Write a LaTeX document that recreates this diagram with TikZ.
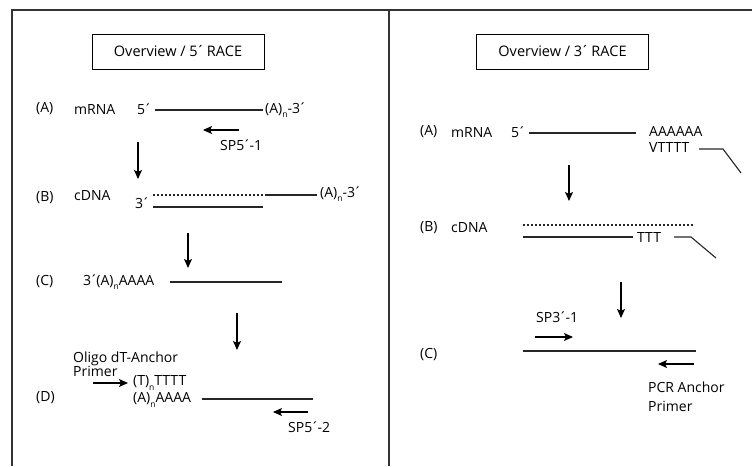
\documentclass[tikz,border=0pt]{standalone}
\usepackage{fontspec}
\setmainfont{Open Sans}
\usetikzlibrary{arrows.meta}
\newcommand\nsub{\raisebox{-0.55ex}{\fontsize{8.5}{9}\selectfont n}}
\newcommand\ac{\kern-0.1em´\kern-0.1em}
\begin{document}
\begin{tikzpicture}[x=1pt,y=-1pt,
  font=\fontsize{14}{15}\selectfont,
  lbl/.style={anchor=west, inner sep=0pt},
  strand/.style={line width=1.1pt, draw=black!85},
  dstrand/.style={line width=1.1pt, draw=black!85, dash pattern=on 2pt off 2pt},
  arr/.style={line width=1.1pt, -{Stealth[length=9pt,width=8pt,inset=2pt]}},
  frame/.style={line width=1.5pt, draw=black!80},
  titlebox/.style={draw, line width=1pt, minimum width=172pt, minimum height=35pt, inner sep=0pt}]
\useasboundingbox (0,0) rectangle (752,466);
% frame
\draw[frame] (12,466) -- (12,10) -- (752,10);
\draw[frame] (389,10) -- (389,466);
% titles
\node[titlebox, font=\fontsize{14.5}{15}\selectfont] (t5) at (178,51.5) {Overview / 5\ac{} RACE};
\node[titlebox, font=\fontsize{14.5}{15}\selectfont] (t3) at (562.5,51.5) {Overview / 3\ac{} RACE};
% ===== left panel =====
% (A)
\node[lbl] (LA) at (36,109) {(A)};
\node[lbl] (LAm) at (74,109) {mRNA};
\node[lbl] (LA5) at (137,109) {5\ac};
\node[lbl] (LApa) at (265,110) {(A)\nsub-3\ac};
\coordinate (la1) at (155,110); \coordinate (la2) at (263,110);
\draw[strand] (la1) -- (la2);
\coordinate (sp1a) at (239,130); \coordinate (sp1b) at (203,130);
\draw[arr] (sp1a) -- (sp1b);
\node[lbl] (LAsp) at (220,145) {SP5\ac-1};
\coordinate (d1a) at (138,142); \coordinate (d1b) at (138,179);
\draw[arr] (d1a) -- (d1b);
% (B)
\node[lbl] (LB) at (36,198) {(B)};
\node[lbl] (LBc) at (74,196) {cDNA};
\coordinate (lb1) at (153,195); \coordinate (lb2) at (265,195); \coordinate (lb3) at (317,195);
\draw[dstrand] (lb1) -- (lb2);
\draw[strand] (lb2) -- (lb3);
\node[lbl] (LBpa) at (320,194) {(A)\nsub-3\ac};
\node[lbl] (LB3) at (135,203) {3\ac};
\coordinate (lb4) at (153,207); \coordinate (lb5) at (263,207);
\draw[strand] (lb4) -- (lb5);
\coordinate (d2a) at (188,233); \coordinate (d2b) at (188,268);
\draw[arr] (d2a) -- (d2b);
% (C)
\node[lbl] (LC) at (36,282) {(C)};
\node[lbl] (LCt) at (83,282) {3\ac(A)\nsub AAAA};
\coordinate (lc1) at (170,282); \coordinate (lc2) at (282,282);
\draw[strand] (lc1) -- (lc2);
\coordinate (d3a) at (237,313); \coordinate (d3b) at (237,350);
\draw[arr] (d3a) -- (d3b);
% (D)
\node[lbl] (LDo) at (73,359) {Oligo dT-Anchor};
\node[lbl] (LDp) at (73,371) {Primer};
\coordinate (od1) at (93,383); \coordinate (od2) at (128,383);
\draw[arr] (od1) -- (od2);
\node[lbl] (LDt) at (133,383) {(T)\nsub TTTT};
\node[lbl] (LD) at (36,398) {(D)};
\node[lbl] (LDa) at (133,400) {(A)\nsub AAAA};
\coordinate (ld1) at (202,399); \coordinate (ld2) at (313,399);
\draw[strand] (ld1) -- (ld2);
\coordinate (sp2a) at (308,412); \coordinate (sp2b) at (273,412);
\draw[arr] (sp2a) -- (sp2b);
\node[lbl] (LDsp) at (288,427) {SP5\ac-2};
% ===== right panel =====
% (A)
\node[lbl] (RA) at (420,132) {(A)};
\node[lbl] (RAm) at (451,132) {mRNA};
\node[lbl] (RA5) at (511,132) {5\ac};
\coordinate (ra1) at (529,133); \coordinate (ra2) at (636,133);
\draw[strand] (ra1) -- (ra2);
\node[lbl] (RAa) at (649,131) {AAAAAA};
\node[lbl] (RAv) at (649,148) {VTTTT};
\coordinate (rv1) at (699,149); \coordinate (rv2) at (723,149); \coordinate (rv3) at (741,173);
\draw[strand] (rv1) -- (rv2) -- (rv3);
\coordinate (e1a) at (569,165); \coordinate (e1b) at (569,201);
\draw[arr] (e1a) -- (e1b);
% (B)
\node[lbl] (RB) at (420,228) {(B)};
\node[lbl] (RBc) at (451,228) {cDNA};
\coordinate (rb1) at (523,225); \coordinate (rb2) at (694,225);
\draw[dstrand] (rb1) -- (rb2);
\coordinate (rb3) at (523,237); \coordinate (rb4) at (633,237);
\draw[strand] (rb3) -- (rb4);
\node[lbl] (RBt) at (637,237) {TTT};
\coordinate (rt1) at (674,237); \coordinate (rt2) at (691,237); \coordinate (rt3) at (716,258);
\draw[strand] (rt1) -- (rt2) -- (rt3);
\coordinate (e2a) at (621,282); \coordinate (e2b) at (621,318);
\draw[arr] (e2a) -- (e2b);
% (C)
\node[lbl] (RCsp) at (536,317) {SP3\ac-1};
\coordinate (s3a) at (535,337); \coordinate (s3b) at (573,337);
\draw[arr] (s3a) -- (s3b);
\node[lbl] (RC) at (420,355) {(C)};
\coordinate (rc1) at (523,351); \coordinate (rc2) at (696,351);
\draw[strand] (rc1) -- (rc2);
\coordinate (pa1) at (694,364); \coordinate (pa2) at (658,364);
\draw[arr] (pa1) -- (pa2);
\node[lbl] (RCp) at (648,387) {PCR Anchor};
\node[lbl] (RCq) at (648,406) {Primer};
\end{tikzpicture}
\end{document}
